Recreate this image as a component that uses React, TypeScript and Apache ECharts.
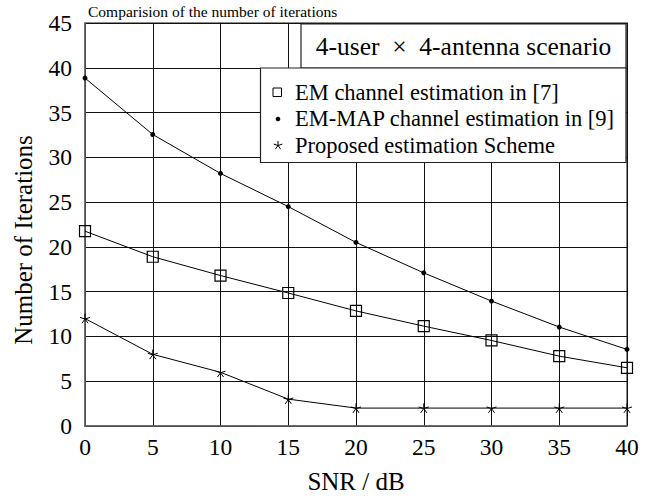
import React, { useEffect, useRef } from "react";
import * as echarts from "echarts";

const snr = [0, 5, 10, 15, 20, 25, 30, 35, 40];
const emIter = [21.75, 18.9, 16.8, 14.85, 12.85, 11.15, 9.55, 7.8, 6.5];
const emMapIter = [38.85, 32.55, 28.2, 24.5, 20.5, 17.1, 13.95, 11.05, 8.55];
const proposedIter = [12, 8, 6, 3, 2, 2, 2, 2, 2];
const seriesNames = [
  "EM channel estimation in [7]",
  "EM-MAP channel estimation in [9]",
  "Proposed estimation Scheme",
];
const titleText = "Comparision of the number of iterations";
const scenarioText = "4-user\u00a0 \u00d7\u00a0 4-antenna scenario";

const FONT = "Liberation Serif";
const STAR =
  "path://M0,-10 L0,0 M9.51,-3.09 L0,0 M5.88,8.09 L0,0 M-5.88,8.09 L0,0 M-9.51,-3.09 L0,0";

function starLines(cx: number, cy: number, r: number) {
  const out: any[] = [];
  for (let k = 0; k < 5; k++) {
    const a = -Math.PI / 2 + (k * 2 * Math.PI) / 5;
    out.push({
      type: "line",
      shape: { x1: cx, y1: cy, x2: cx + r * Math.cos(a), y2: cy + r * Math.sin(a) },
      style: { stroke: "#000", lineWidth: 1 },
      z: 101,
    });
  }
  return out;
}

export default function App() {
  const ref = useRef<HTMLDivElement>(null);
  useEffect(() => {
    if (!ref.current) return;
    const chart = echarts.init(ref.current, undefined, { renderer: "svg" });
    const mk = (arr: number[]) => snr.map((x, i) => [x, arr[i]]);
    chart.setOption({
      animation: false,
      backgroundColor: "#fff",
      textStyle: { fontFamily: FONT },
      grid: {
        left: 85,
        top: 23,
        width: 542,
        height: 407,
        show: true,
        borderColor: "#666",
        borderWidth: 1.5,
        backgroundColor: "transparent",
      },
      xAxis: {
        type: "value",
        min: 0,
        max: 40,
        interval: 5,
        name: "SNR / dB",
        nameLocation: "middle",
        nameGap: 43,
        nameTextStyle: { fontFamily: FONT, fontSize: 25, color: "#000" },
        axisLine: { show: true, lineStyle: { color: "#666", width: 1.5 } },
        axisTick: { show: false },
        axisLabel: { fontFamily: FONT, fontSize: 23.5, color: "#000", margin: 9 },
        splitLine: { show: true, lineStyle: { color: "#111", width: 1 } },
      },
      yAxis: {
        type: "value",
        min: 0,
        max: 45,
        interval: 5,
        axisLine: { show: true, lineStyle: { color: "#666", width: 1.5 } },
        axisTick: { show: false },
        axisLabel: { fontFamily: FONT, fontSize: 23.5, color: "#000", margin: 13 },
        splitLine: { show: true, lineStyle: { color: "#111", width: 1 } },
      },
      series: [
        {
          name: seriesNames[0],
          type: "line",
          data: mk(emIter),
          symbol: "rect",
          symbolSize: 11,
          lineStyle: { color: "#000", width: 1 },
          itemStyle: { color: "rgba(0,0,0,0)", borderColor: "#000", borderWidth: 1.2 },
          z: 3,
        },
        {
          name: seriesNames[1],
          type: "line",
          data: mk(emMapIter),
          symbol: "circle",
          symbolSize: 5,
          lineStyle: { color: "#000", width: 1 },
          itemStyle: { color: "#000", borderWidth: 0 },
          z: 3,
        },
        {
          name: seriesNames[2],
          type: "line",
          data: mk(proposedIter),
          symbol: STAR,
          symbolKeepAspect: true,
          symbolSize: 10,
          lineStyle: { color: "#000", width: 1 },
          itemStyle: { color: "rgba(0,0,0,0)", borderColor: "#000", borderWidth: 1 },
          z: 3,
        },
      ],
      graphic: [
        {
          type: "text",
          left: 88,
          top: 3,
          style: { text: titleText, fontFamily: FONT, fontSize: 15.5, fill: "#000" },
        },
        {
          type: "text",
          x: 23,
          y: 240,
          rotation: Math.PI / 2,
          style: {
            text: "Number of Iterations",
            fontFamily: FONT,
            fontSize: 25,
            fill: "#000",
            align: "center",
            verticalAlign: "middle",
          },
        },
        {
          type: "rect",
          shape: { x: 301, y: 24, width: 325, height: 44 },
          style: { fill: "#fff", stroke: "#222", lineWidth: 1.2 },
          z: 100,
        },
        {
          type: "text",
          x: 463.5,
          y: 46,
          style: {
            text: scenarioText,
            fontFamily: FONT,
            fontSize: 25.5,
            fill: "#000",
            align: "center",
            verticalAlign: "middle",
          },
          z: 101,
        },
        {
          type: "rect",
          shape: { x: 260.5, y: 68, width: 365.5, height: 94.5 },
          style: { fill: "#fff", stroke: "#222", lineWidth: 1.2 },
          z: 100,
        },
        {
          type: "rect",
          shape: { x: 273, y: 88, width: 8.5, height: 8.5 },
          style: { fill: "none", stroke: "#000", lineWidth: 1 },
          z: 101,
        },
        {
          type: "circle",
          shape: { cx: 278, cy: 119, r: 2.3 },
          style: { fill: "#000" },
          z: 101,
        },
        ...starLines(278, 145.5, 4.5),
        ...seriesNames.map((t, i) => ({
          type: "text",
          x: 295,
          y: 92 + i * 26.7,
          style: {
            text: t,
            fontFamily: FONT,
            fontSize: 22.5,
            fill: "#000",
            verticalAlign: "middle",
          },
          z: 101,
        })),
      ],
    });
    return () => chart.dispose();
  }, []);
  return (
    <div
      ref={ref}
      style={{ position: "absolute", left: 0, top: 0, width: 664, height: 499 }}
    />
  );
}
